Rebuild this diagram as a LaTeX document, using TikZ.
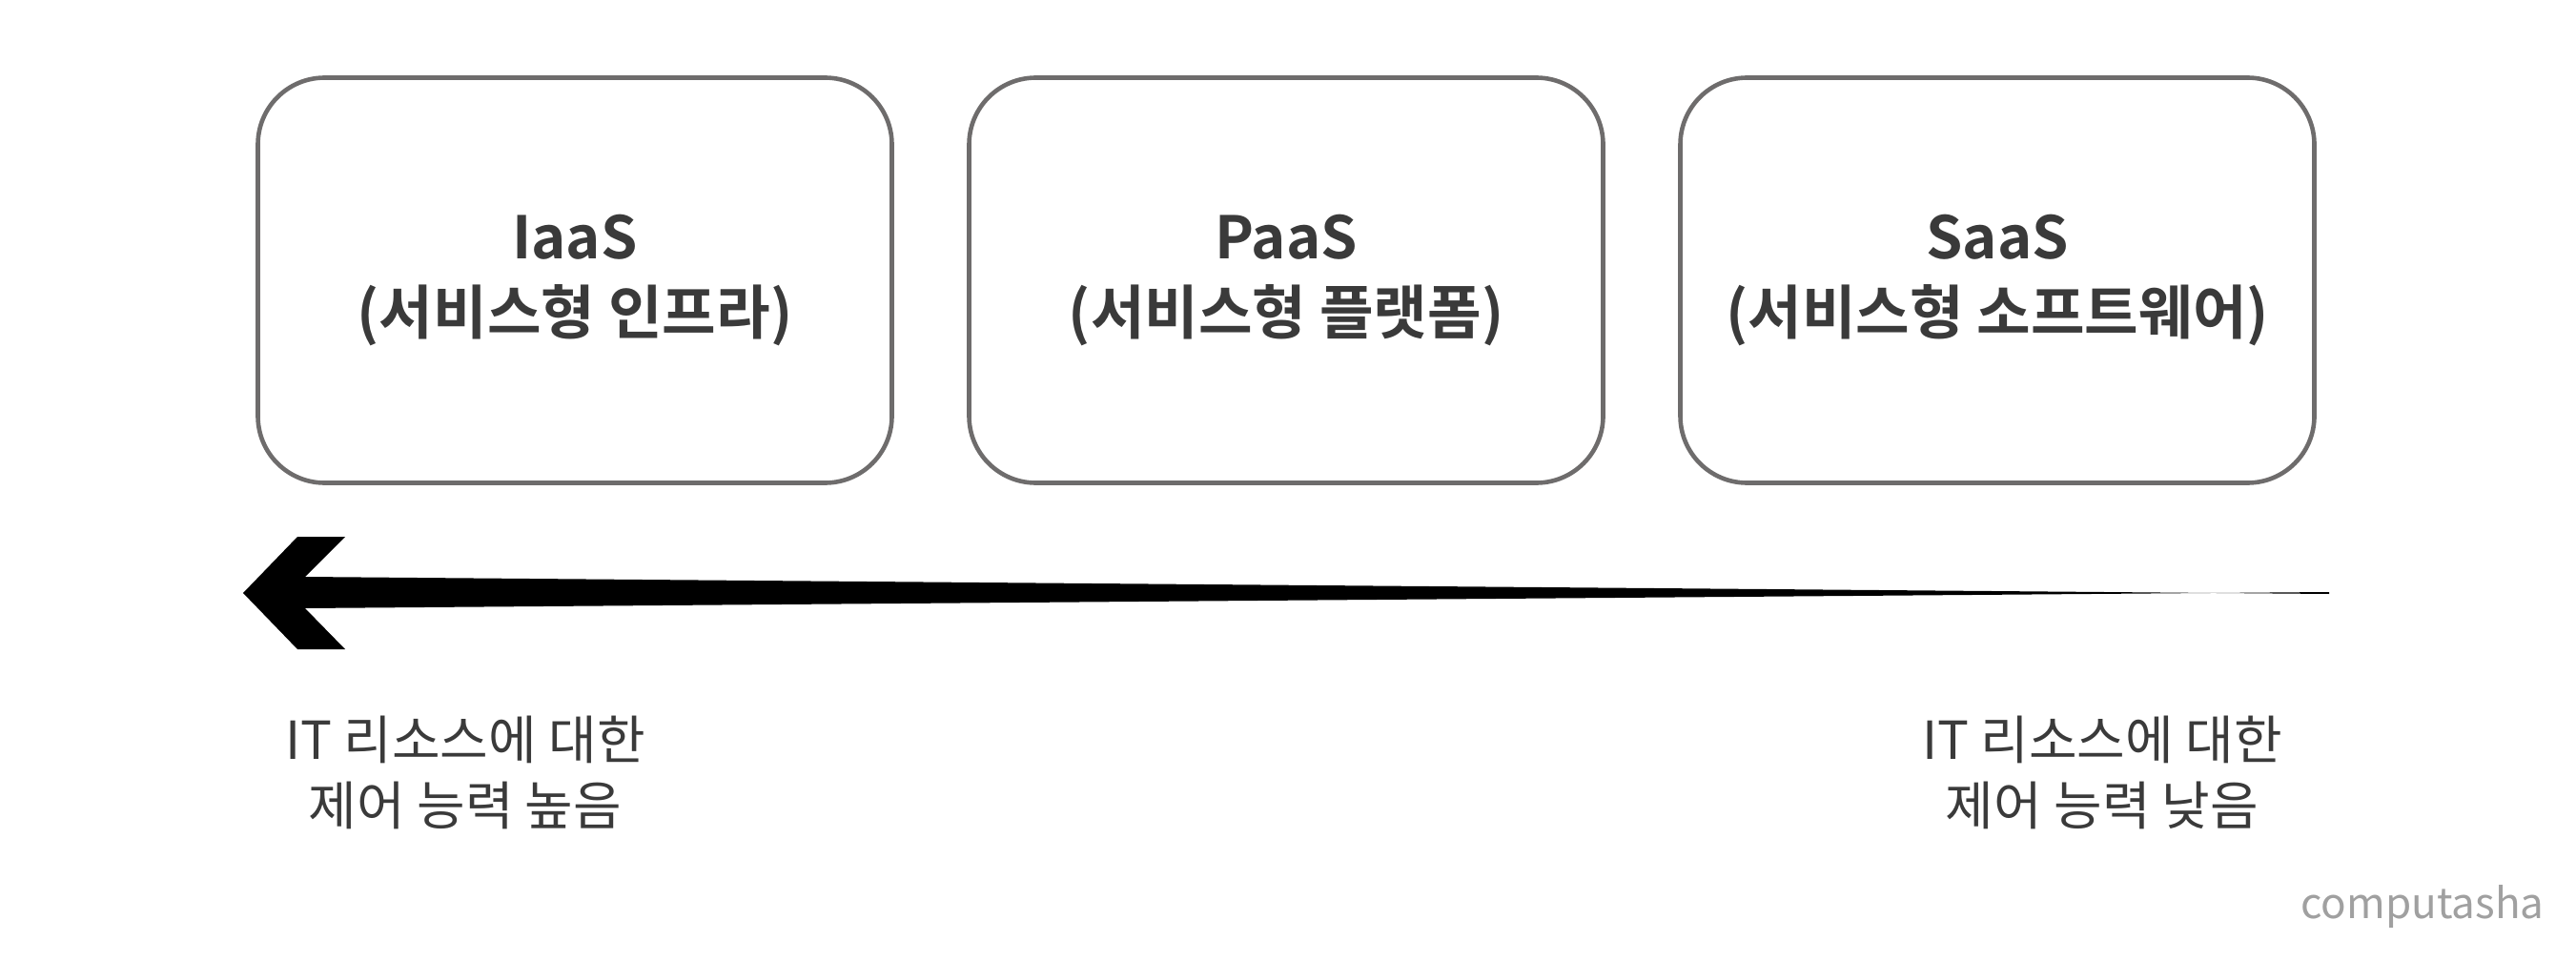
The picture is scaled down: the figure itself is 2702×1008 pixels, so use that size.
\documentclass[tikz,border=0pt]{standalone}
\usepackage{fontspec}
\setmainfont{Noto Sans CJK KR}[BoldFont={Noto Sans CJK KR Bold}]
\definecolor{boxgray}{HTML}{6E6C6C}
\definecolor{txt}{HTML}{3A3A3A}
\definecolor{markgray}{HTML}{A0A0A0}
\begin{document}
\begin{tikzpicture}[x=1pt,y=-1pt,
  svc/.style={draw=boxgray, line width=4.6pt, rounded corners=70pt,
    minimum width=665pt, minimum height=425pt, align=center, text=txt,
    font=\fontsize{61.5}{79}\selectfont\bfseries, inner sep=0pt},
  note/.style={align=center, text=txt, font=\fontsize{55}{69}\selectfont, inner sep=0pt},
  brand/.style={text=markgray, font=\fontsize{44}{50}\selectfont, inner sep=0pt}]
\fill[white] (0,0) rectangle (2702,1008);
\useasboundingbox (0,0) rectangle (2702,1008);

\node[svc] (iaas) at (603,294) {IaaS\\(서비스형 인프라)};
\node[svc] (paas) at (1349,294) {PaaS\\(서비스형 플랫폼)};
\node[svc] (saas) at (2095,294) {SaaS\\(서비스형 소프트웨어)};

% tapered arrow
\coordinate (tip) at (255,622);
\coordinate (tail) at (2443,622);
\fill[black] (tip) -- (312,563) -- (362,563) -- (320,605)
  -- ([yshift=-1pt]tail) -- ([yshift=1pt]tail)
  -- (320,638) -- (362,681) -- (312,681) -- cycle;

\node[note] (high) at (488,810) {IT 리소스에 대한\\제어 능력 높음};
\node[note] (low) at (2205,810) {IT 리소스에 대한\\제어 능력 낮음};

\node[brand] (mark) at (2541,951) {computasha};
\end{tikzpicture}
\end{document}
